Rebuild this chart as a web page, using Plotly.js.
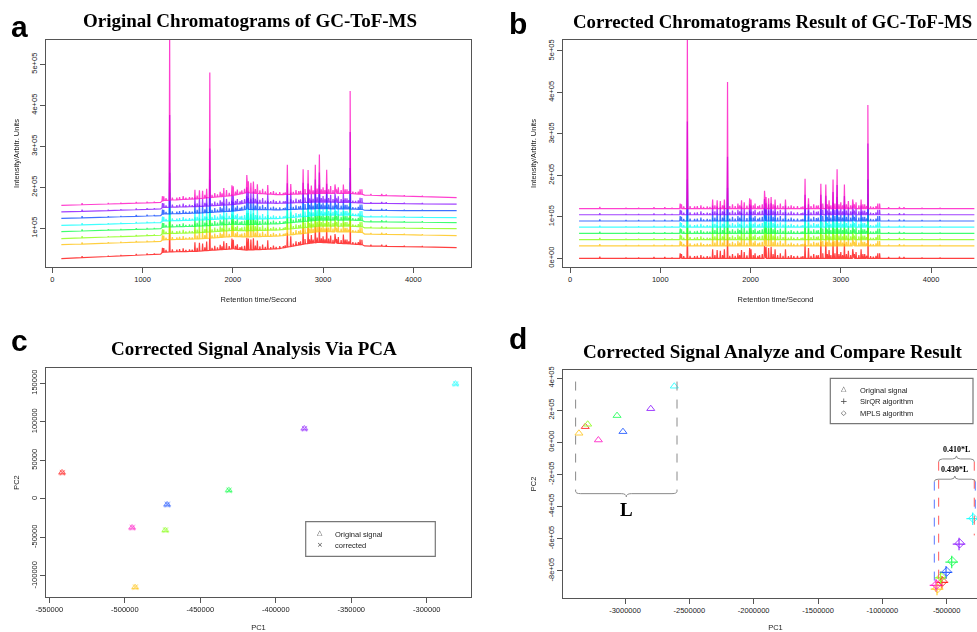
<!DOCTYPE html>
<html><head><meta charset="utf-8">
<script src="https://cdn.plot.ly/plotly-3.0.1.min.js"></script>
<style>html,body{margin:0;padding:0;overflow:hidden;background:#fff}#chart{width:1000px;height:632px}</style>
</head><body><div id="chart"></div>
<script>
// ---------- DATA ----------
const sampleNames = ['S1','S2','S3','S4','S5','S6','S7','S8'];
const sampleColors = ['#FF0000','#FFBF00','#80FF00','#00FF40','#00FFFF','#0040FF','#8000FF','#FF00BF'];

// baseline knots (retention time, s) and per-sample baseline (x1000 intensity), panel a
const rtKnots = [100, 1200, 1230, 1600, 2000, 2150, 2500, 2800, 2950, 3300, 3430, 3460, 4000, 4480];
const baseRed        = [26, 37, 42, 44, 50, 47, 50, 62, 66, 62, 60, 57, 55, 53];
const baseOrange     = [60, 68, 72, 74, 80, 79, 81, 88, 92, 91, 90, 86, 84, 82];
const baseChartreuse = [75, 83, 87, 89, 95, 94, 96, 102, 105, 105, 104, 101, 100, 99];
const baseGreen      = [92, 99, 103, 105, 110, 109, 111, 117, 120, 120, 119, 116, 115, 114];
const baseCyan       = [107, 114, 118, 120, 124, 122, 124, 129, 132, 132, 130, 128, 127, 126];
const baseBlue       = [124, 131, 135, 137, 142, 146, 145, 147, 148, 147, 146, 144, 143, 143];
const basePurple     = [140, 147, 151, 153, 158, 162, 161, 163, 164, 163, 162, 161, 160, 159];
const baseMagenta    = [156, 163, 168, 172, 180, 187, 182, 184, 185, 185, 183, 181, 178, 175];
// corrected (panel b) flat baselines, x1000
const baseCorrected  = [0, 30, 45, 60, 75, 90, 105, 120];

// minor peaks shared by all samples (retention time, height x1000)
const minorRT = [330,620,760,930,1050,1130,1220,1235,1260,1330,1380,1410,1450,1480,1520,1550,1580,1605,1630,1665,1690,1710,1770,1800,1830,1860,1880,1900,1930,1960,1990,2005,2030,2050,2080,2100,2130,2172,2200,2228,2250,2272,2300,2330,2360,2387,2420,2450,2480,2520,2560,2580,2642,2670,2700,2730,2750,2800,2850,2870,2890,2935,2980,3000,3020,3062,3084,3110,3132,3150,3169,3200,3225,3245,3265,3285,3330,3360,3390,3410,3430,3530,3650,3700,3900,4100];
const minorH  = [4,2,2,3,3,2,12,10,5,6,5,6,8,4,5,4,22,8,20,18,8,22,6,10,6,12,8,20,15,7,25,22,8,12,6,8,10,28,25,28,10,22,8,12,6,22,5,8,5,6,4,5,25,6,10,7,8,12,10,20,8,12,10,15,8,10,18,8,22,10,15,8,22,10,10,6,5,4,6,12,12,3,4,3,2,2];

// major peaks per sample (height x1000)
const majorRT = [1300, 1745, 2155, 2604, 2779, 2834, 2914, 2959, 3040, 3300];
const majRed        = [60, 50, 30, 35, 40, 38, 40, 45, 35, 100];
const majOrange     = [50, 48, 25, 30, 30, 30, 32, 40, 30, 70];
const majChartreuse = [55, 50, 25, 30, 30, 30, 32, 40, 30, 70];
const majGreen      = [60, 55, 28, 32, 32, 32, 35, 45, 32, 75];
const majCyan       = [70, 60, 30, 35, 35, 35, 38, 50, 35, 80];
const majBlue       = [100, 80, 32, 38, 40, 40, 45, 58, 40, 100];
const majPurple     = [225, 140, 38, 48, 48, 46, 55, 72, 45, 172];
const majMagenta    = [420, 305, 43, 72, 60, 58, 70, 95, 58, 250];

// PCA (panel c)
const pcaOrigX = [-541600, -493200, -473200, -431200, -281000, -472000, -381100, -495200];
const pcaOrigY = [34200, -114700, -40700, 11300, 149400, -7400, 91300, -37300];
const pcaCorrX = [-541400, -493000, -473000, -431000, -280800, -471800, -381000, -495000];
const pcaCorrY = [34000, -114500, -40500, 11100, 149200, -7200, 91100, -37100];

// PCA compare (panel d)
const cmpOrigX  = [-3309000, -3358000, -3290000, -3062000, -2617000, -3016000, -2800000, -3207000];
const cmpOrigY  = [97000, 56000, 112000, 166000, 349000, 66000, 209000, 14000];
const cmpSirqrX = [-537000, -575000, -547000, -461000, -298000, -505000, -404000, -583000];
const cmpSirqrY = [-872000, -914000, -844000, -746000, -476000, -810000, -634000, -891000];
const cmpMplsX  = [-532000, -571000, -543000, -456000, -294000, -500000, -399000, -579000];
const cmpMplsY  = [-868000, -910000, -840000, -742000, -473000, -806000, -630000, -887000];

// tick labels
const tickA = [1e5, 2e5, 3e5, 4e5, 5e5], tickAText = ['1e+05','2e+05','3e+05','4e+05','5e+05'];
const tickB = [0, 1e5, 2e5, 3e5, 4e5, 5e5], tickBText = ['0e+00','1e+05','2e+05','3e+05','4e+05','5e+05'];
const tickRT = [0, 1000, 2000, 3000, 4000], tickRTText = ['0','1000','2000','3000','4000'];
const tickCX = [-550000,-500000,-450000,-400000,-350000,-300000], tickCXText = ['-550000','-500000','-450000','-400000','-350000','-300000'];
const tickCY = [-100000,-50000,0,50000,100000,150000], tickCYText = ['-100000','-50000','0','50000','100000','150000'];
const tickDX = [-3000000,-2500000,-2000000,-1500000,-1000000,-500000], tickDXText = ['-3000000','-2500000','-2000000','-1500000','-1000000','-500000'];
const tickDY = [-8e5,-6e5,-4e5,-2e5,0,2e5,4e5], tickDYText = ['-8e+05','-6e+05','-4e+05','-2e+05','0e+00','2e+05','4e+05'];

// ---------- BUILD ----------
const basesA = [baseRed, baseOrange, baseChartreuse, baseGreen, baseCyan, baseBlue, basePurple, baseMagenta];
const majors = [majRed, majOrange, majChartreuse, majGreen, majCyan, majBlue, majPurple, majMagenta];

function baseAt(knotsV, t) {
  for (let i = 0; i < rtKnots.length - 1; i++) {
    if (t >= rtKnots[i] && t <= rtKnots[i+1]) {
      const f = (t - rtKnots[i]) / (rtKnots[i+1] - rtKnots[i]);
      return knotsV[i] + f * (knotsV[i+1] - knotsV[i]);
    }
  }
  return knotsV[knotsV.length-1];
}
function buildChrom(knotsV, maj) {
  const pts = rtKnots.map((t, i) => [t, knotsV[i]]);
  const addPeak = (t, h) => { const b = baseAt(knotsV, t); pts.push([t-5, b], [t, b+h], [t+5, b]); };
  minorRT.forEach((t, i) => addPeak(t, minorH[i]));
  majorRT.forEach((t, i) => addPeak(t, maj[i]));
  pts.sort((p, q) => p[0] - q[0]);
  return {x: pts.map(p => p[0]), y: pts.map(p => p[1] * 1000)};
}

const traces = [];
sampleNames.forEach((n, k) => {
  const a = buildChrom(basesA[k], majors[k]);
  traces.push({type:'scatter', mode:'lines', x:a.x, y:a.y, xaxis:'x', yaxis:'y', name:n, showlegend:false,
    line:{color:sampleColors[k], width:1.2}, opacity:0.75, hoverinfo:'skip'});
});
sampleNames.forEach((n, k) => {
  const flat = rtKnots.map(() => baseCorrected[k]);
  const b = buildChrom(flat, majors[k]);
  traces.push({type:'scatter', mode:'lines', x:b.x, y:b.y, xaxis:'x2', yaxis:'y2', name:n, showlegend:false,
    line:{color:sampleColors[k], width:1.2}, opacity:0.75, hoverinfo:'skip'});
});
traces.push({type:'scatter', mode:'markers', x:pcaOrigX, y:pcaOrigY, xaxis:'x3', yaxis:'y3', name:'Original signal', showlegend:false,
  marker:{symbol:'triangle-up-open', size:6, color:sampleColors, line:{width:1, color:sampleColors}}, opacity:0.75});
traces.push({type:'scatter', mode:'markers', x:pcaCorrX, y:pcaCorrY, xaxis:'x3', yaxis:'y3', name:'corrected', showlegend:false,
  marker:{symbol:'x-thin-open', size:5, color:sampleColors, line:{width:1, color:sampleColors}}, opacity:0.75});
traces.push({type:'scatter', mode:'markers', x:cmpOrigX, y:cmpOrigY, xaxis:'x4', yaxis:'y4', name:'Original signal', showlegend:false,
  marker:{symbol:'triangle-up-open', size:7, color:sampleColors, line:{width:1, color:sampleColors}}, opacity:0.75});
traces.push({type:'scatter', mode:'markers', x:cmpSirqrX, y:cmpSirqrY, xaxis:'x4', yaxis:'y4', name:'SirQR algorithm', showlegend:false,
  marker:{symbol:'cross-thin-open', size:9, color:sampleColors, line:{width:1.2, color:sampleColors}}, opacity:0.8});
traces.push({type:'scatter', mode:'markers', x:cmpMplsX, y:cmpMplsY, xaxis:'x4', yaxis:'y4', name:'MPLS algorithm', showlegend:false,
  marker:{symbol:'diamond-open', size:7, color:sampleColors, line:{width:1, color:sampleColors}}, opacity:0.75});

// ---------- LAYOUT ----------
const W = 1000, H = 632;
const PX = v => v / W, PY = v => 1 - v / H;
const tickFont = {family:'Liberation Sans, Arial, sans-serif', size:7.5, color:'#222'};
function ax(opts) {
  return Object.assign({showline:true, mirror:true, linecolor:'#555', linewidth:1, ticks:'outside', ticklen:5,
    tickcolor:'#555', tickwidth:1, showgrid:false, zeroline:false, tickfont:tickFont, tickmode:'array', fixedrange:true}, opts);
}
const axTitle = (t, s) => ({text:t, font:{family:'Liberation Sans, Arial, sans-serif', size:7.5, color:'#222'}, standoff:s});

const layout = {
  width: W, height: H, margin:{l:0, r:0, t:0, b:0}, paper_bgcolor:'#fff', plot_bgcolor:'#fff', showlegend:false,
  xaxis:  ax({domain:[PX(46), PX(471)], range:[-70, 4639], tickvals:tickRT, ticktext:tickRTText, anchor:'y', title:axTitle('Retention time/Second', 13)}),
  yaxis:  ax({domain:[PY(267), PY(40)], range:[5600, 559300], tickvals:tickA, ticktext:tickAText, tickangle:-90, anchor:'x', title:axTitle('Intensity/Arbitr. Units', 9)}),
  xaxis2: ax({domain:[PX(563), PX(988)], range:[-78, 4631], tickvals:tickRT, ticktext:tickRTText, anchor:'y2', title:axTitle('Retention time/Second', 13)}),
  yaxis2: ax({domain:[PY(267), PY(40)], range:[-21000, 526500], tickvals:tickB, ticktext:tickBText, tickangle:-90, anchor:'x2', title:axTitle('Intensity/Arbitr. Units', 9)}),
  xaxis3: ax({domain:[PX(46), PX(471)], range:[-552200, -270700], tickvals:tickCX, ticktext:tickCXText, anchor:'y3', title:axTitle('PC1', 12)}),
  yaxis3: ax({domain:[PY(596.7), PY(368.3)], range:[-126900, 169500], tickvals:tickCY, ticktext:tickCYText, tickangle:-90, anchor:'x3', title:axTitle('PC2', 9)}),
  xaxis4: ax({domain:[PX(563), PX(988)], range:[-3482000, -178800], tickvals:tickDX, ticktext:tickDXText, anchor:'y4', title:axTitle('PC1', 12)}),
  yaxis4: ax({domain:[PY(597.7), PY(370)], range:[-968000, 450000], tickvals:tickDY, ticktext:tickDYText, tickangle:-90, anchor:'x4', title:axTitle('PC2', 9)}),
  annotations: [], shapes: []
};

const serifBold = s => ({family:'Liberation Serif, Times New Roman, serif', size:s, color:'#000', weight:'bold'});
const sansBold = s => ({family:'Liberation Sans, Arial, sans-serif', size:s, color:'#000', weight:'bold'});
const A = (text, x, y, font, xanchor) => layout.annotations.push({text, x:PX(x), y:PY(y), xref:'paper', yref:'paper',
  xanchor:xanchor || 'center', yanchor:'middle', showarrow:false, font});

// panel titles and letters
A('Original Chromatograms of GC-ToF-MS', 250, 21, serifBold(19));
A('Corrected Chromatograms Result of GC-ToF-MS', 772, 22, serifBold(18.8));
A('Corrected Signal Analysis Via PCA', 254, 348, serifBold(19));
A('Corrected Signal Analyze and Compare Result', 772, 351, serifBold(19));
A('a', 19, 26, sansBold(30)); A('b', 518, 24, sansBold(30));
A('c', 19, 340, sansBold(30)); A('d', 518, 338, sansBold(30));

// legend c
const legFont = {family:'Liberation Sans, Arial, sans-serif', size:7.5, color:'#222'};
const symFont = {family:'DejaVu Sans, sans-serif', size:7, color:'#444'};
layout.shapes.push({type:'rect', xref:'paper', yref:'paper', x0:PX(305.7), x1:PX(435.3), y0:PY(556.3), y1:PY(521.7), line:{color:'#777', width:1.2}});
A('\u25B3', 319.7, 532.5, symFont); A('Original signal', 333, 534, legFont, 'left');
A('\u00D7', 319.7, 545, symFont); A('corrected', 333, 545.5, legFont, 'left');
// legend d
layout.shapes.push({type:'rect', xref:'paper', yref:'paper', x0:PX(830.3), x1:PX(973), y0:PY(423.7), y1:PY(378.3), line:{color:'#777', width:1.2}});
A('\u25B3', 844.3, 389.5, symFont); A('Original signal', 857.7, 390, legFont, 'left');
A('+', 844.3, 401, {family:'DejaVu Sans, sans-serif', size:9, color:'#444'}); A('SirQR algorithm', 857.7, 401.7, legFont, 'left');
A('\u25C7', 844.3, 412.5, symFont); A('MPLS algorithm', 857.7, 413, legFont, 'left');

// panel d guides (data coordinates)
const guideGray = '#8a8a8a';
const lLeft = -3384000, lRight = -2596000, lTop = 378000, lEnd = -305000, lBar = -320000, lTip = -340000;
const dLine = (x, y0, y1, color) => layout.shapes.push({type:'line', xref:'x4', yref:'y4', x0:x, x1:x, y0:y0, y1:y1, line:{color, width:1, dash:'dash'}});
dLine(lLeft, lTop, lEnd, guideGray); dLine(lRight, lTop, lEnd, guideGray);
function brace(x1, x2, yEnd, yBar, yTip, r) {
  const xm = (x1 + x2) / 2;
  return `M${x1},${yEnd} Q${x1},${yBar} ${x1+r},${yBar} L${xm-r},${yBar} Q${xm},${yBar} ${xm},${yTip} Q${xm},${yBar} ${xm+r},${yBar} L${x2-r},${yBar} Q${x2},${yBar} ${x2},${yEnd}`;
}
layout.shapes.push({type:'path', xref:'x4', yref:'y4', path:brace(lLeft, lRight, lEnd, lBar, lTip, 39000), line:{color:guideGray, width:1}});
layout.annotations.push({text:'L', x:(lLeft+lRight)/2, y:-420000, xref:'x4', yref:'y4', showarrow:false, font:serifBold(19)});

const b43L = -596000, b43R = -277600, b41L = -562200, b41R = -285400;
dLine(b43L, -245000, -900000, '#5a78ff'); dLine(b43R, -245000, -450000, '#5a78ff');
dLine(b41L, -121000, -895000, '#ff5a5a'); dLine(b41R, -121000, -580000, '#ff5a5a');
layout.shapes.push({type:'path', xref:'x4', yref:'y4', path:brace(b43L, b43R, -245000, -230000, -210000, 31000), line:{color:guideGray, width:1}});
layout.shapes.push({type:'path', xref:'x4', yref:'y4', path:brace(b41L, b41R, -121000, -104000, -85000, 31000), line:{color:guideGray, width:1}});
layout.annotations.push({text:'0.430*L', x:(b43L+b43R)/2, y:-172000, xref:'x4', yref:'y4', showarrow:false, font:serifBold(8)});
layout.annotations.push({text:'0.410*L', x:(b41L+b41R)/2, y:-42000, xref:'x4', yref:'y4', showarrow:false, font:serifBold(8)});

Plotly.newPlot('chart', traces, layout, {displayModeBar:false, staticPlot:true});
</script></body></html>
